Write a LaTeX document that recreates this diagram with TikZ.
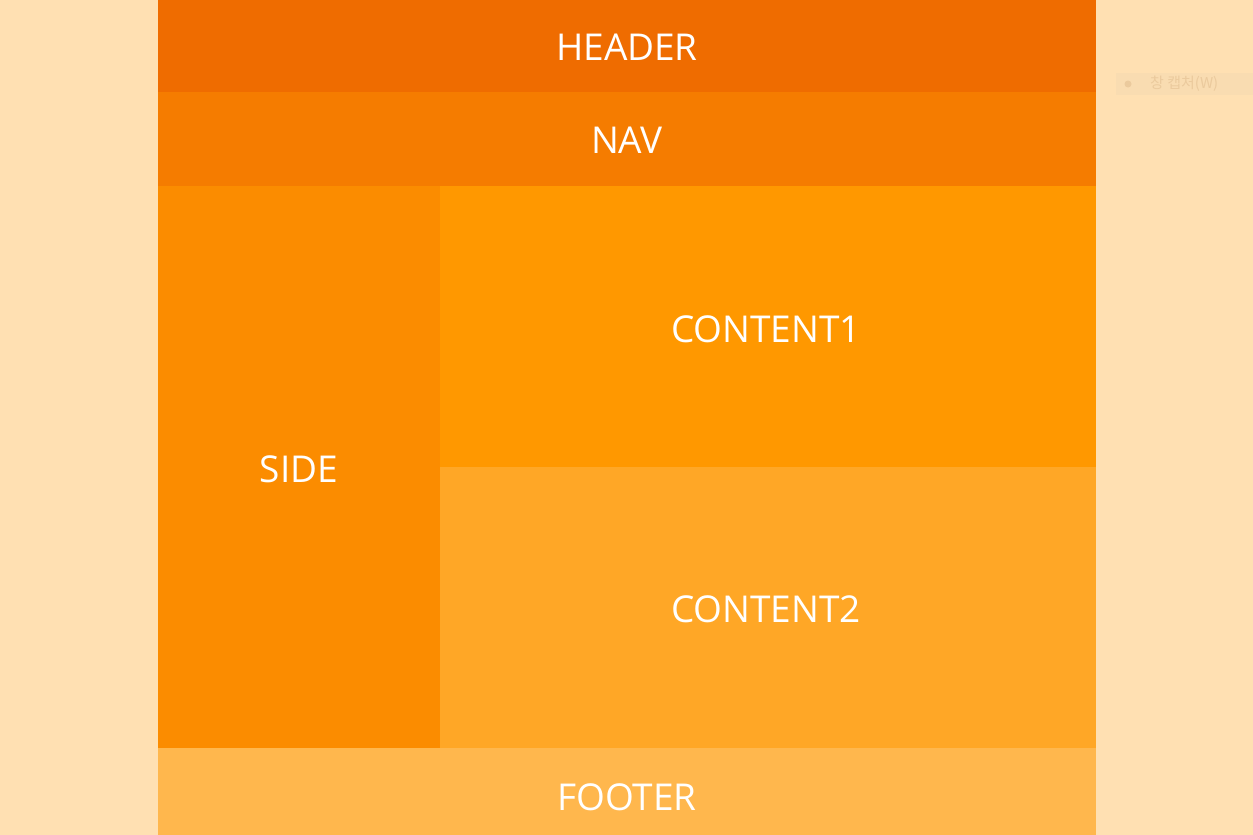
\documentclass[tikz,border=0pt]{standalone}
\usepackage{fontspec}
\setmainfont{Open Sans}
\newfontfamily\krfont{Noto Sans CJK KR}
\definecolor{pagebg}{HTML}{FFE0B2}
\definecolor{hdr}{HTML}{EF6C00}
\definecolor{navc}{HTML}{F57C00}
\definecolor{sidec}{HTML}{FB8C00}
\definecolor{cone}{HTML}{FF9800}
\definecolor{ctwo}{HTML}{FFA726}
\definecolor{foot}{HTML}{FFB74D}
\definecolor{capbox}{HTML}{F9DCB1}
\definecolor{captxt}{HTML}{EBCA9D}
\begin{document}
\begin{tikzpicture}[x=1pt,y=-1pt,
  region/.style={inner sep=0pt, outer sep=0pt, text=white, font=\fontsize{37}{42}\selectfont}]
\useasboundingbox (0,0) rectangle (1253,835);
\fill[pagebg] (0,0) rectangle (1253,835);
% page blocks
\fill[hdr]   (158,0)   rectangle (1096,92);
\fill[navc]  (158,92)  rectangle (1096,186);
\fill[sidec] (158,186) rectangle (440,748);
\fill[cone]  (440,186) rectangle (1096,467);
\fill[ctwo]  (440,467) rectangle (1096,748);
\fill[foot]  (158,748) rectangle (1096,835);
% labels
\node[region] (header)   at (627,47)  {HEADER};
\node[region] (nav)      at (627,140) {NAV};
\node[region] (side)     at (299,469) {SIDE};
\node[region] (content1) at (766,329) {CONTENT1};
\node[region] (content2) at (766,609) {CONTENT2};
\node[region] (footer)   at (627,797) {FOOTER};
% faint window-capture tag at the right edge
\fill[capbox] (1116,73) rectangle (1253,95);
\fill[captxt] (1128,84) circle (3.5);
\node[inner sep=0pt, text=captxt, font=\krfont\fontsize{15}{17}\selectfont, anchor=west] (cap) at (1150,84) {창 캡처(W)};
\end{tikzpicture}
\end{document}
